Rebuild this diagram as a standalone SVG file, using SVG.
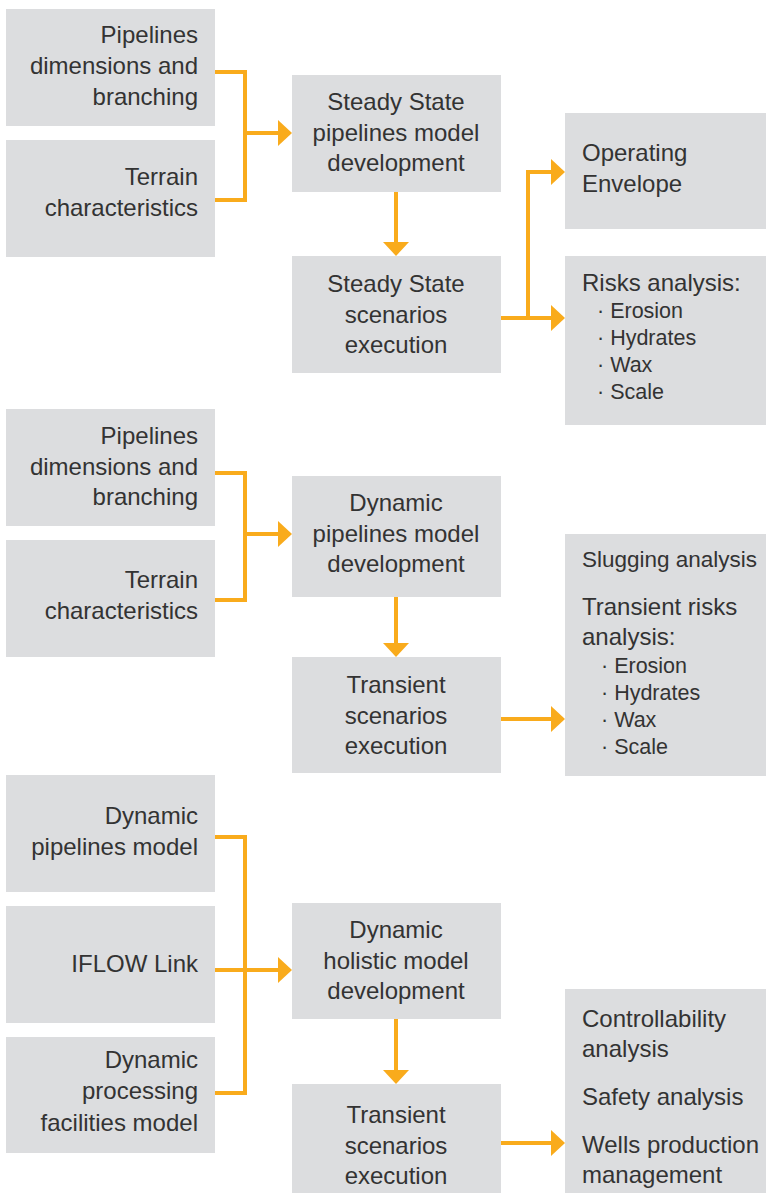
<svg xmlns="http://www.w3.org/2000/svg" width="766" height="1193" viewBox="0 0 766 1193">
<style>
.box{fill:#dcdddf}
.t{font-family:"Liberation Sans",Arial,sans-serif;font-size:24px;fill:#333333}
.r{text-anchor:end}
.c{text-anchor:middle}
.b{font-size:21.5px}
.s{font-size:22.5px}
.con{fill:none;stroke:#f9ab1c;stroke-width:4;stroke-linejoin:miter}
</style>
<defs>
<marker id="ah" markerUnits="userSpaceOnUse" markerWidth="14" markerHeight="26" viewBox="0 0 14 26" refX="2" refY="13" orient="auto">
<path d="M0,0 L14,13 L0,26 Z" fill="#f9ab1c"/>
</marker>
</defs>
<rect width="766" height="1193" fill="#ffffff"/>

<g id="s1-in1"><rect class="box" x="6" y="9" width="209" height="117"/>
<text class="t r" x="198" y="43">Pipelines</text><text class="t r" x="198" y="74">dimensions and</text><text class="t r" x="198" y="105">branching</text></g>
<g id="s1-in2"><rect class="box" x="6" y="140" width="209" height="117"/>
<text class="t r" x="198" y="185">Terrain</text><text class="t r" x="198" y="216">characteristics</text></g>
<g id="s1-model"><rect class="box" x="292" y="75" width="209" height="117"/>
<text class="t c" x="396" y="110">Steady State</text><text class="t c" x="396" y="141">pipelines model</text><text class="t c" x="396" y="171">development</text></g>
<g id="s1-exec"><rect class="box" x="292" y="256" width="209" height="117"/>
<text class="t c" x="396" y="292">Steady State</text><text class="t c" x="396" y="323">scenarios</text><text class="t c" x="396" y="353">execution</text></g>
<g id="s1-env"><rect class="box" x="565" y="113" width="201" height="116"/>
<text class="t" x="582" y="161">Operating</text><text class="t" x="582" y="192">Envelope</text></g>
<g id="s1-risk"><rect class="box" x="565" y="256" width="201" height="169"/>
<text class="t" x="582" y="291">Risks analysis:</text>
<text class="t b" x="597" y="318">· Erosion</text><text class="t b" x="597" y="345">· Hydrates</text><text class="t b" x="597" y="372">· Wax</text><text class="t b" x="597" y="399">· Scale</text></g>

<g id="s2-in1"><rect class="box" x="6" y="409" width="209" height="117"/>
<text class="t r" x="198" y="444">Pipelines</text><text class="t r" x="198" y="475">dimensions and</text><text class="t r" x="198" y="505">branching</text></g>
<g id="s2-in2"><rect class="box" x="6" y="540" width="209" height="117"/>
<text class="t r" x="198" y="588">Terrain</text><text class="t r" x="198" y="619">characteristics</text></g>
<g id="s2-model"><rect class="box" x="292" y="476" width="209" height="121"/>
<text class="t c" x="396" y="511">Dynamic</text><text class="t c" x="396" y="542">pipelines model</text><text class="t c" x="396" y="572">development</text></g>
<g id="s2-exec"><rect class="box" x="292" y="657" width="209" height="116"/>
<text class="t c" x="396" y="693">Transient</text><text class="t c" x="396" y="724">scenarios</text><text class="t c" x="396" y="754">execution</text></g>
<g id="s2-out"><rect class="box" x="565" y="534" width="201" height="242"/>
<text class="t s" x="582" y="567">Slugging analysis</text>
<text class="t" x="582" y="615">Transient risks</text><text class="t" x="582" y="645">analysis:</text>
<text class="t b" x="601" y="673">· Erosion</text><text class="t b" x="601" y="700">· Hydrates</text><text class="t b" x="601" y="727">· Wax</text><text class="t b" x="601" y="754">· Scale</text></g>

<g id="s3-in1"><rect class="box" x="6" y="775" width="209" height="117"/>
<text class="t r" x="198" y="824">Dynamic</text><text class="t r" x="198" y="855">pipelines model</text></g>
<g id="s3-in2"><rect class="box" x="6" y="906" width="209" height="117"/>
<text class="t r" x="198" y="972">IFLOW Link</text></g>
<g id="s3-in3"><rect class="box" x="6" y="1037" width="209" height="116"/>
<text class="t r" x="198" y="1068">Dynamic</text><text class="t r" x="198" y="1099">processing</text><text class="t r" x="198" y="1131">facilities model</text></g>
<g id="s3-model"><rect class="box" x="292" y="903" width="209" height="116"/>
<text class="t c" x="396" y="938">Dynamic</text><text class="t c" x="396" y="969">holistic model</text><text class="t c" x="396" y="999">development</text></g>
<g id="s3-exec"><rect class="box" x="292" y="1084" width="209" height="109"/>
<text class="t c" x="396" y="1123">Transient</text><text class="t c" x="396" y="1154">scenarios</text><text class="t c" x="396" y="1184">execution</text></g>
<g id="s3-out"><rect class="box" x="565" y="989" width="201" height="204"/>
<text class="t" x="582" y="1027">Controllability</text><text class="t" x="582" y="1057">analysis</text>
<text class="t" x="582" y="1105">Safety analysis</text>
<text class="t" x="582" y="1153">Wells production</text><text class="t" x="582" y="1183">management</text></g>

<g id="connectors">
<path class="con" d="M215,72 H245 V200 H215"/>
<path class="con" d="M245,133 H280" marker-end="url(#ah)"/>
<path class="con" d="M396,192 V244" marker-end="url(#ah)"/>
<path class="con" d="M501,318 H528 V172 H553" marker-end="url(#ah)"/>
<path class="con" d="M528,318 H553" marker-end="url(#ah)"/>

<path class="con" d="M215,473 H245 V600 H215"/>
<path class="con" d="M245,534 H280" marker-end="url(#ah)"/>
<path class="con" d="M396,597 V645" marker-end="url(#ah)"/>
<path class="con" d="M501,719 H553" marker-end="url(#ah)"/>

<path class="con" d="M215,837 H245 V1093 H215"/>
<path class="con" d="M215,970 H280" marker-end="url(#ah)"/>
<path class="con" d="M396,1019 V1072" marker-end="url(#ah)"/>
<path class="con" d="M501,1143 H553" marker-end="url(#ah)"/>
</g>
</svg>
